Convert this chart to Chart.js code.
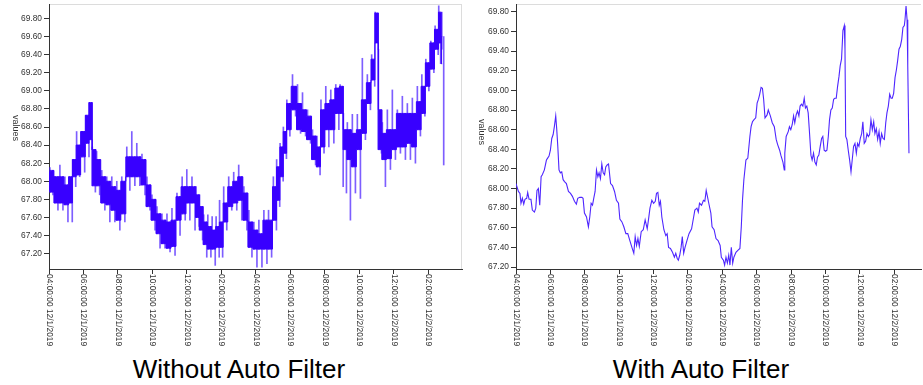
<!DOCTYPE html>
<html>
<head>
<meta charset="utf-8">
<script src="https://cdn.jsdelivr.net/npm/chart.js@4.4.1/dist/chart.umd.min.js"></script>
<style>
  html, body { margin: 0; padding: 0; background: #fff; width: 923px; height: 385px; overflow: hidden; }
  canvas { position: absolute; top: 0; }
  #c1 { left: 0; }
  #c2 { left: 464px; }
  .cap { position: absolute; top: 354px; font-family: "Liberation Sans", Arial, sans-serif; font-size: 26px; line-height: 30px; color: #000; white-space: nowrap; transform: translateX(-50%); }
</style>
</head>
<body>
<canvas id="c1" width="464" height="350"></canvas>
<canvas id="c2" width="459" height="350"></canvas>
<div class="cap" style="left:239px">Without Auto Filter</div>
<div class="cap" style="left:701px">With Auto Filter</div>
<script>
// ---- axis ticks ----
const xTickHours = [0, 2, 4, 6, 8, 10, 12, 14, 16, 18, 20, 22];
const xTickLabels = ["04:00:00 12/1/2019","06:00:00 12/1/2019","08:00:00 12/1/2019","10:00:00 12/1/2019",
  "12:00:00 12/2/2019","02:00:00 12/2/2019","04:00:00 12/2/2019","06:00:00 12/2/2019",
  "08:00:00 12/2/2019","10:00:00 12/2/2019","12:00:00 12/2/2019","02:00:00 12/2/2019"];
const yTickValues = [67.2, 67.4, 67.6, 67.8, 68.0, 68.2, 68.4, 68.6, 68.8, 69.0, 69.2, 69.4, 69.6, 69.8];

// ---- unfiltered (hours since 04:00 12/1) : dense band envelope ----
const rawHours = [0.00,0.14,0.43,0.72,1.01,1.26,1.46,1.69,1.98,2.23,2.41,2.60,2.85,3.15,3.44,3.73,4.02,4.31,4.60,4.89,
  5.18,5.48,5.77,6.06,6.35,6.64,6.93,7.22,7.51,7.81,8.08,8.38,8.62,8.82,9.06,9.30,9.55,9.78,9.98,10.22,
  10.51,10.80,11.09,11.39,11.68,11.97,12.26,12.55,12.82,13.10,13.29,13.49,13.68,13.88,14.21,14.50,14.79,15.08,15.37,15.63,
  15.86,16.14,16.43,16.72,16.97,17.16,17.39,17.68,17.97,18.26,18.55,18.80,19.00,19.19,19.42,19.71,20.00,20.29,20.58,20.87,
  21.16,21.45,21.71,21.94,22.23,22.48,22.69,22.80];
const rawCoreHi = [68.10,68.12,68.05,68.05,67.96,68.05,68.24,68.40,68.55,68.73,68.87,68.35,68.24,68.05,68.00,67.94,67.90,68.00,68.27,68.27,
  68.27,68.24,67.96,67.80,67.64,67.57,67.55,67.57,67.83,67.94,67.94,67.94,67.85,67.72,67.55,67.50,67.46,67.50,67.55,67.76,
  67.94,68.00,68.05,67.87,67.55,67.46,67.42,67.57,67.57,67.94,68.16,68.38,68.55,68.86,69.05,68.86,68.79,68.72,68.50,68.38,
  68.79,68.86,68.90,69.03,69.05,68.57,68.57,68.53,68.57,68.90,69.09,69.35,69.86,68.79,68.53,68.57,68.57,68.75,68.75,68.75,
  68.75,68.88,69.05,69.31,69.53,69.68,69.87,69.60];
const rawCoreLo = [67.90,67.88,67.76,67.76,67.74,67.76,68.05,68.07,68.27,68.42,68.46,67.95,67.95,67.76,67.74,67.68,67.57,67.64,68.05,68.05,
  68.05,67.96,67.72,67.57,67.42,67.31,67.26,67.28,67.57,67.64,67.76,67.76,67.60,67.46,67.30,67.25,67.25,67.27,67.27,67.55,
  67.72,67.76,67.79,67.57,67.27,67.25,67.25,67.25,67.25,67.57,67.79,68.05,68.31,68.57,68.79,68.57,68.55,68.46,68.24,68.16,
  68.38,68.57,68.57,68.75,68.75,68.35,68.24,68.16,68.35,68.53,68.86,69.12,69.53,68.35,68.24,68.25,68.35,68.38,68.38,68.42,
  68.38,68.57,68.75,69.05,69.24,69.46,69.53,69.30];
const rawSpikeHi = [68.12,68.15,68.05,68.18,68.05,68.05,68.24,68.55,68.55,68.73,68.87,68.38,68.33,68.12,68.05,68.05,68.00,68.05,68.38,68.55,
  68.42,68.30,68.05,67.85,67.72,67.64,67.64,67.70,67.87,68.05,68.13,68.05,67.94,67.85,67.63,67.63,67.61,67.61,67.79,67.94,
  68.05,68.10,68.18,67.94,67.68,67.55,67.57,67.68,67.68,68.05,68.24,68.42,68.60,68.90,69.18,69.07,68.98,68.79,68.57,68.50,
  68.90,69.05,69.01,69.07,69.07,68.75,68.65,68.74,68.74,69.36,69.18,69.40,69.87,69.46,68.65,68.79,69.01,68.79,68.94,68.86,
  68.92,69.05,69.18,69.35,69.55,69.72,69.94,69.60];
const rawSpikeLo = [67.88,67.85,67.68,67.68,67.55,67.55,67.94,68.05,68.10,68.27,68.35,67.88,67.85,67.68,67.55,67.55,67.46,67.55,67.90,67.95,
  67.95,67.85,67.68,67.46,67.26,67.26,67.22,67.18,67.40,67.57,67.57,67.46,67.50,67.35,67.16,67.16,67.07,67.16,67.16,67.46,
  67.68,67.68,67.57,67.46,67.16,67.05,67.05,67.09,67.16,67.46,67.72,68.00,68.25,68.50,68.72,68.53,68.50,68.42,68.18,68.07,
  68.31,68.38,68.42,68.57,67.94,67.87,67.57,67.87,67.81,68.46,68.79,69.05,69.46,68.31,67.94,68.13,68.24,68.31,68.24,68.24,
  68.20,68.50,68.72,69.00,69.20,69.40,69.46,68.18];

// ---- filtered (hours since 04:00 12/1) ----
const filtHours = [0.00,0.14,0.23,0.29,0.37,0.45,0.52,0.62,0.68,0.76,0.87,0.95,1.07,1.15,1.22,1.30,1.38,1.46,1.53,1.65,
  1.77,1.84,1.92,2.00,2.08,2.16,2.23,2.31,2.37,2.43,2.50,2.58,2.66,2.74,2.82,2.93,3.05,3.17,3.28,3.40,
  3.51,3.59,3.71,3.83,3.90,3.98,4.10,4.21,4.29,4.37,4.45,4.52,4.60,4.68,4.76,4.83,4.91,4.99,5.07,5.15,
  5.22,5.30,5.38,5.50,5.61,5.73,5.84,5.96,6.04,6.16,6.27,6.39,6.50,6.62,6.74,6.85,6.93,7.01,7.09,7.17,
  7.28,7.40,7.51,7.63,7.71,7.79,
  7.90,8.00,8.10,8.17,8.25,8.33,8.40,8.48,8.60,8.71,8.79,8.87,8.98,9.10,9.21,9.29,9.37,9.44,9.52,9.60,
  9.67,9.75,9.83,9.94,10.06,10.21,10.33,10.40,10.52,10.60,10.67,10.79,10.90,10.98,11.06,11.13,11.21,11.33,11.40,11.52,
  11.63,11.75,11.87,11.94,12.06,12.13,12.21,12.29,12.37,12.44,12.52,12.60,12.67,12.79,12.90,13.02,13.10,13.17,13.25,13.37,
  13.48,13.60,13.67,13.75,13.83,13.94,14.02,14.10,14.17,14.25,14.33,14.40,14.48,14.60,14.67,14.79,14.90,15.02,15.13,15.21,
  15.33,15.40,15.52,15.60,
  15.63,15.71,15.83,15.90,15.98,16.06,16.14,16.21,16.29,16.37,16.45,16.52,16.60,16.68,16.76,16.83,16.91,16.99,17.07,17.15,
  17.22,17.30,17.38,17.46,17.53,17.61,17.69,17.77,17.84,17.92,18.00,18.08,18.16,18.23,18.31,18.39,18.47,18.54,18.62,18.70,
  18.78,18.85,18.93,19.01,19.09,19.13,19.17,19.24,19.32,19.40,19.48,19.55,19.63,19.71,19.79,19.86,19.94,20.02,20.10,20.17,
  20.25,20.33,20.41,20.49,20.56,20.64,20.72,20.80,20.87,20.95,21.03,21.11,21.18,21.26,21.34,21.42,21.50,21.57,21.65,21.73,
  21.81,21.88,21.96,22.04,22.12,22.19,22.27,22.35,22.43,22.50,22.58,22.62,22.68,22.74,22.78,22.85];
const filtValues = [68.05,67.97,67.95,67.85,67.90,67.84,67.89,67.90,67.96,67.89,67.89,67.78,67.76,67.80,67.98,68.00,67.83,68.12,68.14,68.19,
  68.29,68.31,68.33,68.39,68.51,68.55,68.63,68.74,68.60,68.43,68.19,68.16,68.17,68.09,68.07,68.05,67.97,67.95,67.92,67.87,
  67.84,67.90,67.91,67.91,67.90,67.75,67.71,67.61,67.71,67.85,67.83,67.90,67.97,68.19,68.12,68.16,68.10,68.25,68.16,68.14,
  68.22,68.24,68.25,68.05,68.03,67.97,67.88,67.85,67.69,67.66,67.61,67.54,67.54,67.47,67.40,67.34,67.51,67.42,67.49,67.41,
  67.56,67.58,67.68,67.59,67.69,67.80,
  67.88,67.85,67.87,67.95,67.96,67.83,67.87,67.71,67.58,67.52,67.54,67.40,67.39,67.35,67.30,67.34,67.29,67.27,67.32,67.40,
  67.51,67.34,67.40,67.47,67.54,67.59,67.71,67.78,67.80,67.76,67.85,67.83,67.88,67.87,67.98,67.92,67.85,67.75,67.61,67.58,
  67.49,67.47,67.42,67.30,67.27,67.22,67.30,67.24,67.32,67.22,67.40,67.24,67.30,67.35,67.37,67.39,67.61,67.88,68.09,68.29,
  68.31,68.53,68.63,68.68,68.70,68.72,68.87,68.91,68.96,69.03,69.02,68.91,68.72,68.75,68.80,68.74,68.67,68.63,68.50,68.45,
  68.39,68.34,68.27,68.19,
  68.36,68.53,68.58,68.63,68.60,68.65,68.74,68.67,68.75,68.79,68.74,68.84,68.86,68.84,68.92,68.82,68.84,68.77,68.56,68.34,
  68.29,68.36,68.27,68.24,68.32,68.34,68.43,68.51,68.53,68.39,68.38,68.39,68.53,68.70,68.80,68.82,68.91,68.92,68.92,69.04,
  69.14,69.25,69.32,69.61,69.66,69.42,68.53,68.50,68.39,68.29,68.17,68.29,68.43,68.46,68.36,68.46,68.43,68.51,68.56,68.68,
  68.46,68.48,68.56,68.53,68.55,68.70,68.60,68.68,68.56,68.61,68.50,68.58,68.46,68.56,68.51,68.50,68.67,68.77,68.84,68.96,
  68.92,68.92,68.97,69.13,69.21,69.30,69.42,69.45,69.52,69.64,69.66,69.72,69.86,69.72,69.25,68.36];

// ---- look ----
const FONT = '"Liberation Sans", Arial, sans-serif';
const TEXT = '#333';
const AXIS = '#333';
const BAND = 'rgb(56,0,255)';
const SPIKE = 'rgba(70,25,255,0.7)';
const LINE = 'rgb(78,38,255)';
Chart.defaults.font.family = FONT;
Chart.defaults.font.size = 8;
Chart.defaults.color = TEXT;

const decor = {
  id: 'decor',
  beforeDraw(chart, args, o) {
    const a = chart.chartArea, ctx = chart.ctx;
    ctx.save();
    ctx.strokeStyle = '#dcdcdc';
    ctx.lineWidth = 1;
    ctx.beginPath();
    ctx.moveTo(a.left, Math.floor(a.top) + 0.5);
    ctx.lineTo(a.right, Math.floor(a.top) + 0.5);
    if (o.rightBorder) {
      ctx.moveTo(Math.floor(a.right) - 0.5, a.top);
      ctx.lineTo(Math.floor(a.right) - 0.5, a.bottom);
    }
    ctx.stroke();
    ctx.restore();
  },
  afterDraw(chart, args, o) {
    const ctx = chart.ctx, xs = chart.scales.x;
    ctx.save();
    ctx.fillStyle = TEXT;
    ctx.font = '8.4px ' + FONT;
    ctx.textAlign = 'left';
    ctx.textBaseline = 'middle';
    xTickHours.forEach((h, i) => {
      const px = xs.getPixelForValue(h);
      ctx.save();
      ctx.translate(px, xs.top + 5);
      ctx.rotate(Math.PI / 2);
      ctx.fillText(xTickLabels[i], 0, 0);
      ctx.restore();
    });
    ctx.save();
    ctx.font = '9px ' + FONT;
    ctx.translate(o.titleX, o.titleY);
    ctx.rotate(Math.PI / 2);
    ctx.textAlign = 'center';
    ctx.fillText('values', 0, 0);
    ctx.restore();
    ctx.restore();
  }
};

function makeScales(xMax, yMin, yMax, yWidth) {
  return {
    x: {
      type: 'linear', min: 0, max: xMax, offset: false,
      afterBuildTicks: s => { s.ticks = xTickHours.map(v => ({ value: v })); },
      afterFit: s => { s.height = 81; s.paddingLeft = 0; s.paddingRight = 0; },
      ticks: { display: false },
      grid: { drawOnChartArea: false, drawTicks: true, tickLength: 5, tickColor: AXIS, offset: false },
      border: { color: AXIS, width: 1 }
    },
    y: {
      type: 'linear', min: yMin, max: yMax,
      afterBuildTicks: s => { s.ticks = yTickValues.map(v => ({ value: v })); },
      afterFit: s => { s.width = yWidth; s.paddingTop = 0; s.paddingBottom = 0; },
      ticks: { padding: 2, color: TEXT, font: { size: 8.4 }, callback: v => Number(v).toFixed(2) },
      grid: { drawOnChartArea: false, drawTicks: true, tickLength: 5, tickColor: AXIS },
      border: { color: AXIS, width: 1 }
    }
  };
}

const common = {
  responsive: false,
  animation: false,
  devicePixelRatio: 1,
  plugins: { legend: { display: false }, tooltip: { enabled: false } },
  elements: { point: { radius: 0 } }
};

// left: without filter
new Chart(document.getElementById('c1'), {
  type: 'line',
  data: {
    datasets: [
      { type: 'line', data: rawHours.map((h, i) => ({ x: h, y: rawCoreHi[i] })), borderColor: BAND, borderWidth: 1,
        stepped: 'middle', fill: false, order: 1 },
      { type: 'line', data: rawHours.map((h, i) => ({ x: h, y: rawCoreLo[i] })), borderColor: BAND, borderWidth: 1,
        stepped: 'middle', fill: '-1', backgroundColor: BAND, order: 1 },
      { type: 'bar', data: rawHours.map((h, i) => ({ x: h - 0.06, y: [rawCoreLo[i], rawSpikeHi[i]] })),
        backgroundColor: SPIKE, barThickness: 1, order: 2 },
      { type: 'bar', data: rawHours.map((h, i) => ({ x: h + 0.06, y: [rawSpikeLo[i], rawCoreHi[i]] })),
        backgroundColor: SPIKE, barThickness: 1, order: 2 }
    ]
  },
  options: Object.assign({}, common, {
    layout: { padding: { top: 4, right: 2, left: 0, bottom: 0 } },
    scales: makeScales(23.95, 67.03, 69.96, 49),
    plugins: Object.assign({}, common.plugins, { decor: { rightBorder: true, titleX: 15, titleY: 128 } })
  }),
  plugins: [decor]
});

// right: with filter
new Chart(document.getElementById('c2'), {
  type: 'line',
  data: {
    datasets: [
      { data: filtHours.map((h, i) => ({ x: h, y: filtValues[i] })), borderColor: LINE, borderWidth: 1.1,
        fill: false, tension: 0 }
    ]
  },
  options: Object.assign({}, common, {
    layout: { padding: { top: 4, right: 2, left: 0, bottom: 0 } },
    scales: makeScales(23.55, 67.18, 69.88, 52),
    plugins: Object.assign({}, common.plugins, { decor: { rightBorder: false, titleX: 17, titleY: 132 } })
  }),
  plugins: [decor]
});
</script>
</body>
</html>
